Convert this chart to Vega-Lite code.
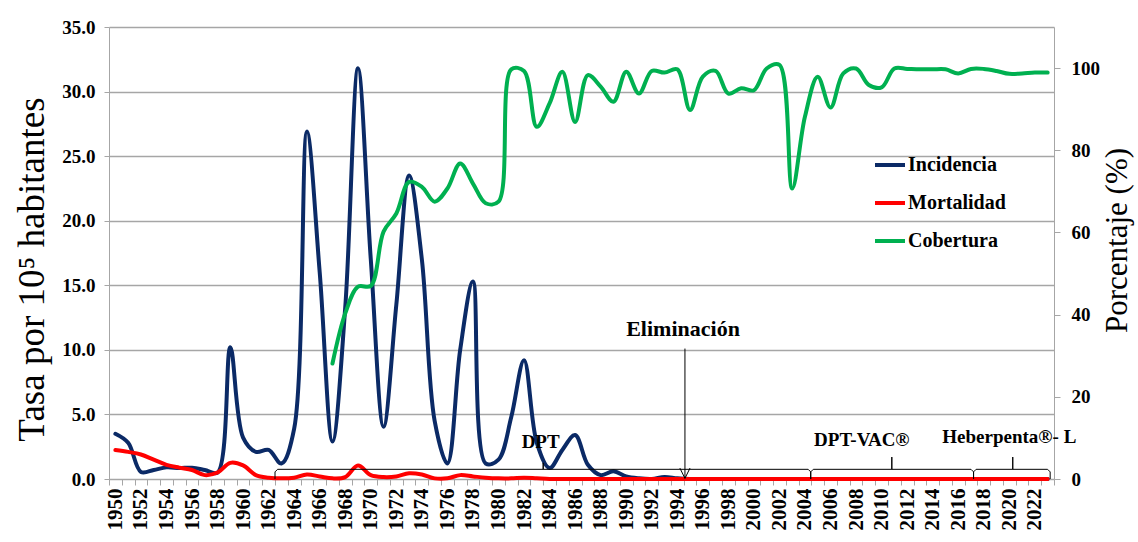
{
"$schema": "https://vega.github.io/schema/vega-lite/v6.json",
"width": 945, "height": 452,
"autosize": {"type": "none"},
"padding": {"left": 109, "top": 27, "right": 84, "bottom": 63},
"background": "white",
"config": {"view": {"stroke": null}, "font": "Liberation Serif"},
"datasets": {
"series": [
{"anio":1950,"serie":"Incidencia","valor":3.5},{"anio":1951,"serie":"Incidencia","valor":2.8},{"anio":1952,"serie":"Incidencia","valor":0.55},{"anio":1953,"serie":"Incidencia","valor":0.7},{"anio":1954,"serie":"Incidencia","valor":0.9},{"anio":1955,"serie":"Incidencia","valor":0.85},{"anio":1956,"serie":"Incidencia","valor":0.87},{"anio":1957,"serie":"Incidencia","valor":0.7},{"anio":1958,"serie":"Incidencia","valor":0.5},{"anio":1959,"serie":"Incidencia","valor":10.2},
{"anio":1960,"serie":"Incidencia","valor":3.2},{"anio":1961,"serie":"Incidencia","valor":2.1},{"anio":1962,"serie":"Incidencia","valor":2.25},{"anio":1963,"serie":"Incidencia","valor":1.2},{"anio":1964,"serie":"Incidencia","valor":3.9},{"anio":1965,"serie":"Incidencia","valor":26.9},{"anio":1966,"serie":"Incidencia","valor":16.0},{"anio":1967,"serie":"Incidencia","valor":2.9},{"anio":1968,"serie":"Incidencia","valor":13.3},{"anio":1969,"serie":"Incidencia","valor":31.8},
{"anio":1970,"serie":"Incidencia","valor":17.0},{"anio":1971,"serie":"Incidencia","valor":4.05},{"anio":1972,"serie":"Incidencia","valor":13.5},{"anio":1973,"serie":"Incidencia","valor":23.5},{"anio":1974,"serie":"Incidencia","valor":17.0},{"anio":1975,"serie":"Incidencia","valor":4.5},{"anio":1976,"serie":"Incidencia","valor":1.2},{"anio":1977,"serie":"Incidencia","valor":10.0},{"anio":1978,"serie":"Incidencia","valor":15.3},{"anio":1979,"serie":"Incidencia","valor":1.2},
{"anio":1980,"serie":"Incidencia","valor":1.5},{"anio":1981,"serie":"Incidencia","valor":4.8},{"anio":1982,"serie":"Incidencia","valor":9.2},{"anio":1983,"serie":"Incidencia","valor":2.8},{"anio":1984,"serie":"Incidencia","valor":0.85},{"anio":1985,"serie":"Incidencia","valor":2.25},{"anio":1986,"serie":"Incidencia","valor":3.4},{"anio":1987,"serie":"Incidencia","valor":1.1},{"anio":1988,"serie":"Incidencia","valor":0.3},{"anio":1989,"serie":"Incidencia","valor":0.6},
{"anio":1990,"serie":"Incidencia","valor":0.2},{"anio":1991,"serie":"Incidencia","valor":0.05},{"anio":1992,"serie":"Incidencia","valor":0.0},{"anio":1993,"serie":"Incidencia","valor":0.15},{"anio":1994,"serie":"Incidencia","valor":0.05},{"anio":1995,"serie":"Incidencia","valor":0},{"anio":1996,"serie":"Incidencia","valor":0},{"anio":1997,"serie":"Incidencia","valor":0},{"anio":1998,"serie":"Incidencia","valor":0},{"anio":1999,"serie":"Incidencia","valor":0},
{"anio":2000,"serie":"Incidencia","valor":0},{"anio":2001,"serie":"Incidencia","valor":0},{"anio":2002,"serie":"Incidencia","valor":0},{"anio":2003,"serie":"Incidencia","valor":0},{"anio":2004,"serie":"Incidencia","valor":0},{"anio":2005,"serie":"Incidencia","valor":0},{"anio":2006,"serie":"Incidencia","valor":0},{"anio":2007,"serie":"Incidencia","valor":0},{"anio":2008,"serie":"Incidencia","valor":0},{"anio":2009,"serie":"Incidencia","valor":0},
{"anio":2010,"serie":"Incidencia","valor":0},{"anio":2011,"serie":"Incidencia","valor":0},{"anio":2012,"serie":"Incidencia","valor":0},{"anio":2013,"serie":"Incidencia","valor":0},{"anio":2014,"serie":"Incidencia","valor":0},{"anio":2015,"serie":"Incidencia","valor":0},{"anio":2016,"serie":"Incidencia","valor":0},{"anio":2017,"serie":"Incidencia","valor":0},{"anio":2018,"serie":"Incidencia","valor":0},{"anio":2019,"serie":"Incidencia","valor":0},
{"anio":2020,"serie":"Incidencia","valor":0},{"anio":2021,"serie":"Incidencia","valor":0},{"anio":2022,"serie":"Incidencia","valor":0},{"anio":2023,"serie":"Incidencia","valor":0},
{"anio":1950,"serie":"Mortalidad","valor":2.25},{"anio":1951,"serie":"Mortalidad","valor":2.1},{"anio":1952,"serie":"Mortalidad","valor":1.9},{"anio":1953,"serie":"Mortalidad","valor":1.5},{"anio":1954,"serie":"Mortalidad","valor":1.1},{"anio":1955,"serie":"Mortalidad","valor":0.88},{"anio":1956,"serie":"Mortalidad","valor":0.7},{"anio":1957,"serie":"Mortalidad","valor":0.3},{"anio":1958,"serie":"Mortalidad","valor":0.5},{"anio":1959,"serie":"Mortalidad","valor":1.25},
{"anio":1960,"serie":"Mortalidad","valor":1.05},{"anio":1961,"serie":"Mortalidad","valor":0.3},{"anio":1962,"serie":"Mortalidad","valor":0.1},{"anio":1963,"serie":"Mortalidad","valor":0.05},{"anio":1964,"serie":"Mortalidad","valor":0.1},{"anio":1965,"serie":"Mortalidad","valor":0.35},{"anio":1966,"serie":"Mortalidad","valor":0.2},{"anio":1967,"serie":"Mortalidad","valor":0.05},{"anio":1968,"serie":"Mortalidad","valor":0.15},{"anio":1969,"serie":"Mortalidad","valor":1.05},
{"anio":1970,"serie":"Mortalidad","valor":0.3},{"anio":1971,"serie":"Mortalidad","valor":0.15},{"anio":1972,"serie":"Mortalidad","valor":0.2},{"anio":1973,"serie":"Mortalidad","valor":0.45},{"anio":1974,"serie":"Mortalidad","valor":0.35},{"anio":1975,"serie":"Mortalidad","valor":0.05},{"anio":1976,"serie":"Mortalidad","valor":0.05},{"anio":1977,"serie":"Mortalidad","valor":0.3},{"anio":1978,"serie":"Mortalidad","valor":0.2},{"anio":1979,"serie":"Mortalidad","valor":0.1},
{"anio":1980,"serie":"Mortalidad","valor":0.05},{"anio":1981,"serie":"Mortalidad","valor":0.05},{"anio":1982,"serie":"Mortalidad","valor":0.1},{"anio":1983,"serie":"Mortalidad","valor":0.05},{"anio":1984,"serie":"Mortalidad","valor":0},{"anio":1985,"serie":"Mortalidad","valor":0},{"anio":1986,"serie":"Mortalidad","valor":0},{"anio":1987,"serie":"Mortalidad","valor":0},{"anio":1988,"serie":"Mortalidad","valor":0},{"anio":1989,"serie":"Mortalidad","valor":0},
{"anio":1990,"serie":"Mortalidad","valor":0},{"anio":1991,"serie":"Mortalidad","valor":0},{"anio":1992,"serie":"Mortalidad","valor":0},{"anio":1993,"serie":"Mortalidad","valor":0},{"anio":1994,"serie":"Mortalidad","valor":0},{"anio":1995,"serie":"Mortalidad","valor":0},{"anio":1996,"serie":"Mortalidad","valor":0},{"anio":1997,"serie":"Mortalidad","valor":0},{"anio":1998,"serie":"Mortalidad","valor":0},{"anio":1999,"serie":"Mortalidad","valor":0},
{"anio":2000,"serie":"Mortalidad","valor":0},{"anio":2001,"serie":"Mortalidad","valor":0},{"anio":2002,"serie":"Mortalidad","valor":0},{"anio":2003,"serie":"Mortalidad","valor":0},{"anio":2004,"serie":"Mortalidad","valor":0},{"anio":2005,"serie":"Mortalidad","valor":0},{"anio":2006,"serie":"Mortalidad","valor":0},{"anio":2007,"serie":"Mortalidad","valor":0},{"anio":2008,"serie":"Mortalidad","valor":0},{"anio":2009,"serie":"Mortalidad","valor":0},
{"anio":2010,"serie":"Mortalidad","valor":0},{"anio":2011,"serie":"Mortalidad","valor":0},{"anio":2012,"serie":"Mortalidad","valor":0},{"anio":2013,"serie":"Mortalidad","valor":0},{"anio":2014,"serie":"Mortalidad","valor":0},{"anio":2015,"serie":"Mortalidad","valor":0},{"anio":2016,"serie":"Mortalidad","valor":0},{"anio":2017,"serie":"Mortalidad","valor":0},{"anio":2018,"serie":"Mortalidad","valor":0},{"anio":2019,"serie":"Mortalidad","valor":0},
{"anio":2020,"serie":"Mortalidad","valor":0},{"anio":2021,"serie":"Mortalidad","valor":0},{"anio":2022,"serie":"Mortalidad","valor":0},{"anio":2023,"serie":"Mortalidad","valor":0},
{"anio":1967,"serie":"Cobertura","valor":28.1},{"anio":1968,"serie":"Cobertura","valor":40.3},{"anio":1969,"serie":"Cobertura","valor":46.8},
{"anio":1970,"serie":"Cobertura","valor":47.0},{"anio":1971,"serie":"Cobertura","valor":60.2},{"anio":1972,"serie":"Cobertura","valor":64.6},{"anio":1973,"serie":"Cobertura","valor":72.3},{"anio":1974,"serie":"Cobertura","valor":71.1},{"anio":1975,"serie":"Cobertura","valor":67.5},{"anio":1976,"serie":"Cobertura","valor":70.7},{"anio":1977,"serie":"Cobertura","valor":76.8},{"anio":1978,"serie":"Cobertura","valor":71.9},{"anio":1979,"serie":"Cobertura","valor":67.1},
{"anio":1980,"serie":"Cobertura","valor":67.5},{"anio":1981,"serie":"Cobertura","valor":99.7},{"anio":1982,"serie":"Cobertura","valor":99.3},{"anio":1983,"serie":"Cobertura","valor":85.7},{"anio":1984,"serie":"Cobertura","valor":91.4},{"anio":1985,"serie":"Cobertura","valor":99.1},{"anio":1986,"serie":"Cobertura","valor":86.9},{"anio":1987,"serie":"Cobertura","valor":98.3},{"anio":1988,"serie":"Cobertura","valor":95.5},{"anio":1989,"serie":"Cobertura","valor":91.8},
{"anio":1990,"serie":"Cobertura","valor":99.1},{"anio":1991,"serie":"Cobertura","valor":93.8},{"anio":1992,"serie":"Cobertura","valor":99.3},{"anio":1993,"serie":"Cobertura","valor":98.9},{"anio":1994,"serie":"Cobertura","valor":99.7},{"anio":1995,"serie":"Cobertura","valor":89.8},{"anio":1996,"serie":"Cobertura","valor":97.9},{"anio":1997,"serie":"Cobertura","valor":99.3},{"anio":1998,"serie":"Cobertura","valor":93.8},{"anio":1999,"serie":"Cobertura","valor":95.1},
{"anio":2000,"serie":"Cobertura","valor":94.6},{"anio":2001,"serie":"Cobertura","valor":99.9},{"anio":2002,"serie":"Cobertura","valor":100.8},{"anio":2003,"serie":"Cobertura","valor":70.7},{"anio":2004,"serie":"Cobertura","valor":88.2},{"anio":2005,"serie":"Cobertura","valor":97.9},{"anio":2006,"serie":"Cobertura","valor":90.4},{"anio":2007,"serie":"Cobertura","valor":98.7},{"anio":2008,"serie":"Cobertura","valor":99.9},{"anio":2009,"serie":"Cobertura","valor":95.9},
{"anio":2010,"serie":"Cobertura","valor":95.3},{"anio":2011,"serie":"Cobertura","valor":99.9},{"anio":2012,"serie":"Cobertura","valor":99.8},{"anio":2013,"serie":"Cobertura","valor":99.7},{"anio":2014,"serie":"Cobertura","valor":99.7},{"anio":2015,"serie":"Cobertura","valor":99.7},{"anio":2016,"serie":"Cobertura","valor":98.7},{"anio":2017,"serie":"Cobertura","valor":99.8},{"anio":2018,"serie":"Cobertura","valor":99.8},{"anio":2019,"serie":"Cobertura","valor":99.3},
{"anio":2020,"serie":"Cobertura","valor":98.6},{"anio":2021,"serie":"Cobertura","valor":98.7},{"anio":2022,"serie":"Cobertura","valor":98.9},{"anio":2023,"serie":"Cobertura","valor":98.9}
],
"llaves": [
{"grupo":"DPT","orden":1,"anio":1962.5,"valor":0.0},{"grupo":"DPT","orden":2,"anio":1962.5,"valor":0.55},{"grupo":"DPT","orden":3,"anio":1962.7,"valor":0.75},{"grupo":"DPT","orden":4,"anio":1983.5,"valor":0.75},{"grupo":"DPT","orden":5,"anio":1983.5,"valor":1.25},{"grupo":"DPT","orden":6,"anio":1983.5,"valor":0.75},{"grupo":"DPT","orden":7,"anio":2004.25,"valor":0.75},{"grupo":"DPT","orden":8,"anio":2004.45,"valor":0.55},{"grupo":"DPT","orden":9,"anio":2004.45,"valor":0.0},
{"grupo":"VAC","orden":1,"anio":2004.45,"valor":0.0},{"grupo":"VAC","orden":2,"anio":2004.45,"valor":0.55},{"grupo":"VAC","orden":3,"anio":2004.65,"valor":0.75},{"grupo":"VAC","orden":4,"anio":2010.8,"valor":0.75},{"grupo":"VAC","orden":5,"anio":2010.8,"valor":1.7},{"grupo":"VAC","orden":6,"anio":2010.8,"valor":0.75},{"grupo":"VAC","orden":7,"anio":2017.0,"valor":0.75},{"grupo":"VAC","orden":8,"anio":2017.2,"valor":0.55},{"grupo":"VAC","orden":9,"anio":2017.2,"valor":0.0},
{"grupo":"HEB","orden":1,"anio":2017.2,"valor":0.0},{"grupo":"HEB","orden":2,"anio":2017.2,"valor":0.55},{"grupo":"HEB","orden":3,"anio":2017.4,"valor":0.75},{"grupo":"HEB","orden":4,"anio":2020.27,"valor":0.75},{"grupo":"HEB","orden":5,"anio":2020.27,"valor":1.7},{"grupo":"HEB","orden":6,"anio":2020.27,"valor":0.75},{"grupo":"HEB","orden":7,"anio":2023.0,"valor":0.75},{"grupo":"HEB","orden":8,"anio":2023.2,"valor":0.55},{"grupo":"HEB","orden":9,"anio":2023.2,"valor":0.0},
{"grupo":"ELIM","orden":1,"anio":1994.6,"valor":10.1},{"grupo":"ELIM","orden":2,"anio":1994.6,"valor":0.05},
{"grupo":"FLECHA","orden":1,"anio":1994.2,"valor":0.85},{"grupo":"FLECHA","orden":2,"anio":1994.6,"valor":0.05},{"grupo":"FLECHA","orden":3,"anio":1995.0,"valor":0.85}
],
"etiquetas": [
{"anio":1983.3,"valor":2.9,"texto":"DPT"},
{"anio":2008.45,"valor":3.0,"texto":"DPT-VAC®"},
{"anio":2020.0,"valor":3.25,"texto":"Heberpenta®- L"}
],
"elim": [
{"anio":1994.45,"valor":11.6,"texto":"Eliminación"}
]
},
"encoding": {
"x": {"field": "anio", "type": "quantitative",
 "scale": {"domain": [1949.5, 2023.5], "nice": false, "zero": false},
 "axis": {"values": [1949.5,1950.5,1951.5,1952.5,1953.5,1954.5,1955.5,1956.5,1957.5,1958.5,1959.5,1960.5,1961.5,1962.5,1963.5,1964.5,1965.5,1966.5,1967.5,1968.5,1969.5,1970.5,1971.5,1972.5,1973.5,1974.5,1975.5,1976.5,1977.5,1978.5,1979.5,1980.5,1981.5,1982.5,1983.5,1984.5,1985.5,1986.5,1987.5,1988.5,1989.5,1990.5,1991.5,1992.5,1993.5,1994.5,1995.5,1996.5,1997.5,1998.5,1999.5,2000.5,2001.5,2002.5,2003.5,2004.5,2005.5,2006.5,2007.5,2008.5,2009.5,2010.5,2011.5,2012.5,2013.5,2014.5,2015.5,2016.5,2017.5,2018.5,2019.5,2020.5,2021.5,2022.5,2023.5],
  "labelExpr": "(datum.value % 2 == 1.5 && datum.value < 2023) ? format(datum.value + 0.5, 'd') : ''",
  "labelAngle": -90, "labelAlign": "right", "labelBaseline": "middle", "labelOffset": 6.4,
  "labelPadding": 3, "labelOverlap": false, "labelFlush": false, "labelBound": false,
  "labelFont": "Liberation Serif", "labelFontSize": 21, "labelFontWeight": "bold", "labelColor": "black",
  "ticks": true, "tickSize": 6, "tickColor": "#A6A6A6", "domainColor": "#A6A6A6", "grid": false, "title": null}}
},
"layer": [
{
 "encoding": {
  "y": {"field": "valor", "type": "quantitative",
   "scale": {"domain": [0, 35], "nice": false, "zero": true},
   "axis": {"orient": "left", "values": [0,5,10,15,20,25,30,35], "format": ".1f",
    "grid": true, "gridColor": "#A6A6A6", "gridWidth": 1.5,
    "domainColor": "#A6A6A6", "tickColor": "#A6A6A6", "tickSize": 5,
    "labelFont": "Liberation Serif", "labelFontSize": 19, "labelFontWeight": "bold", "labelColor": "black", "labelPadding": 9,
    "title": "Tasa por 10⁵ habitantes", "titleFont": "Liberation Serif", "titleFontSize": 37, "titleFontWeight": "normal", "titleColor": "black", "titlePadding": 10, "titleY": 242}}
 },
 "layer": [
  {"data": {"name": "series"}, "transform": [{"filter": "datum.serie == 'Incidencia'"}],
   "mark": {"type": "line", "interpolate": "catmull-rom", "strokeWidth": 4, "strokeCap": "round"},
   "encoding": {"color": {"field": "serie", "type": "nominal",
     "scale": {"domain": ["Incidencia", "Mortalidad", "Cobertura"], "range": ["#0B2A66", "#FF0000", "#00B050"]},
     "legend": {"orient": "none", "legendX": 764, "legendY": 121, "title": null, "symbolType": "stroke", "symbolStrokeWidth": 4, "symbolSize": 900,
      "labelFont": "Liberation Serif", "labelFontSize": 20, "labelFontWeight": "bold", "labelColor": "black", "rowPadding": 11, "labelOffset": 1, "padding": 0}}}},
  {"data": {"name": "series"}, "transform": [{"filter": "datum.serie == 'Mortalidad'"}],
   "mark": {"type": "line", "interpolate": "catmull-rom", "strokeWidth": 4, "strokeCap": "round"},
   "encoding": {"color": {"field": "serie", "type": "nominal"}}},
  {"data": {"name": "llaves"},
   "mark": {"type": "line", "color": "black", "strokeWidth": 1},
   "encoding": {"detail": {"field": "grupo"}, "order": {"field": "orden", "type": "quantitative"}}},
  {"data": {"name": "etiquetas"},
   "mark": {"type": "text", "font": "Liberation Serif", "fontSize": 19, "fontWeight": "bold", "color": "black", "align": "center", "baseline": "middle"},
   "encoding": {"text": {"field": "texto"}}},
  {"data": {"name": "elim"},
   "mark": {"type": "text", "font": "Liberation Serif", "fontSize": 22, "fontWeight": "bold", "color": "black", "align": "center", "baseline": "middle"},
   "encoding": {"text": {"field": "texto"}}}
 ]
},
{
 "data": {"name": "series"}, "transform": [{"filter": "datum.serie == 'Cobertura'"}],
 "mark": {"type": "line", "interpolate": "catmull-rom", "strokeWidth": 4, "strokeCap": "round"},
 "encoding": {
  "y": {"field": "valor", "type": "quantitative",
   "scale": {"domain": [0, 110], "nice": false, "zero": true},
   "axis": {"orient": "right", "values": [0,20,40,60,80,100], "grid": false,
    "domainColor": "#A6A6A6", "tickColor": "#A6A6A6", "tickSize": 6,
    "labelFont": "Liberation Serif", "labelFontSize": 19, "labelFontWeight": "bold", "labelColor": "black", "labelPadding": 11,
    "title": "Porcentaje (%)", "titleAngle": 270, "titleFont": "Liberation Serif", "titleFontSize": 31, "titleFontWeight": "normal", "titleColor": "black", "titlePadding": 34, "titleY": 213}},
  "color": {"field": "serie", "type": "nominal"}
 }
}
],
"resolve": {"scale": {"y": "independent"}}
}
